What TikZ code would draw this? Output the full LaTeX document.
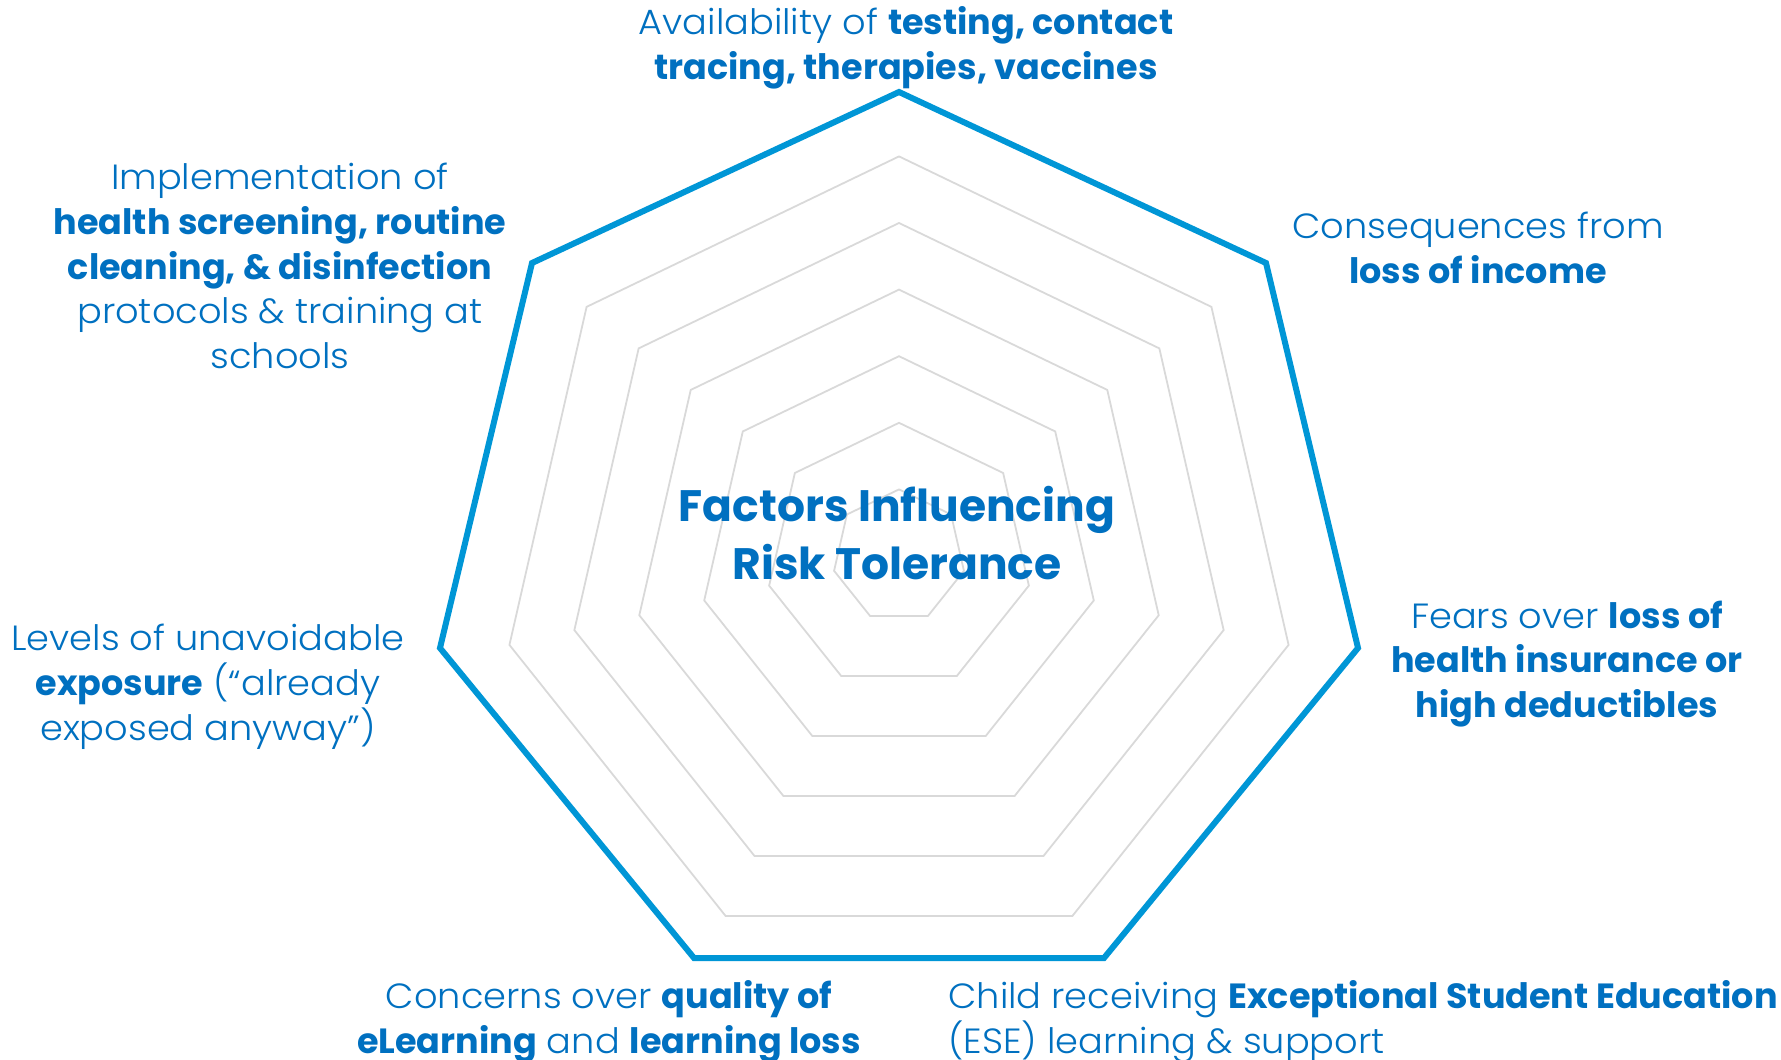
\documentclass[tikz,border=0pt]{standalone}
\usepackage{fontspec}
\setmainfont{Poppins Light}[BoldFont={Poppins Bold},UprightFeatures={FakeStretch=1.05}]
\definecolor{txtblue}{HTML}{0070C0}
\definecolor{lineblue}{HTML}{0096D6}
\definecolor{ringgray}{HTML}{D9D9D9}
\begin{document}
\begin{tikzpicture}[x=0.5pt,y=-0.5pt,
  ring/.style={draw=ringgray,line width=0.9pt,line join=miter},
  outer/.style={draw=lineblue,line width=3pt,line join=miter},
  lbl/.style={text=txtblue,inner sep=0pt,align=center,font=\fontsize{17.5}{22.4}\selectfont},
  title/.style={text=txtblue,inner sep=0pt,align=center,font=\fontsize{22}{28.8}\selectfont\bfseries}]
\path[use as bounding box] (0,0) rectangle (1781,1059);
% gray rings
\begin{scope}[shift={(899,556)}]
\foreach \k in {1,...,6}{
  \pgfmathsetmacro{\r}{66.6*\k}
  \draw[ring] (-90:\r) \foreach \i in {1,...,6}{ -- ({-90+\i*360/7}:\r) } -- cycle;
}
\end{scope}
% outer heptagon
\coordinate (vT) at (899,92);
\coordinate (vUR) at (1266,263);
\coordinate (vR) at (1358,648);
\coordinate (vBR) at (1104,958);
\coordinate (vBL) at (694,958);
\coordinate (vL) at (440,648);
\coordinate (vUL) at (532,263);
\draw[outer] (vT) -- (vUR) -- (vR) -- (vBR) -- (vBL) -- (vL) -- (vUL) -- cycle;
% center title
\node[title] (center) at (897,533) {Factors Influencing\\Risk Tolerance};
% labels
\node[lbl] (top) at (906,48) {Availability of \textbf{testing, contact}\\\textbf{tracing, therapies, vaccines}};
\node[lbl] (ul) at (280,266) {Implementation of\\\textbf{health screening, routine}\\\textbf{cleaning, \& disinfection}\\protocols \& training at\\schools};
\node[lbl] (ur) at (1478,248) {Consequences from\\\textbf{loss of income}};
\node[lbl] (r) at (1567,664) {Fears over \textbf{loss of}\\\textbf{health insurance or}\\\textbf{high deductibles}};
\node[lbl,align=left,anchor=west] (br) at (948,1022) {Child receiving \textbf{Exceptional Student Education}\\(ESE) learning \& support};
\node[lbl] (bl) at (609,1022) {Concerns over \textbf{quality of}\\\textbf{eLearning} and \textbf{learning loss}};
\node[lbl] (l) at (208,687) {Levels of unavoidable\\\textbf{exposure} (“already\\exposed anyway”)};
\end{tikzpicture}
\end{document}
